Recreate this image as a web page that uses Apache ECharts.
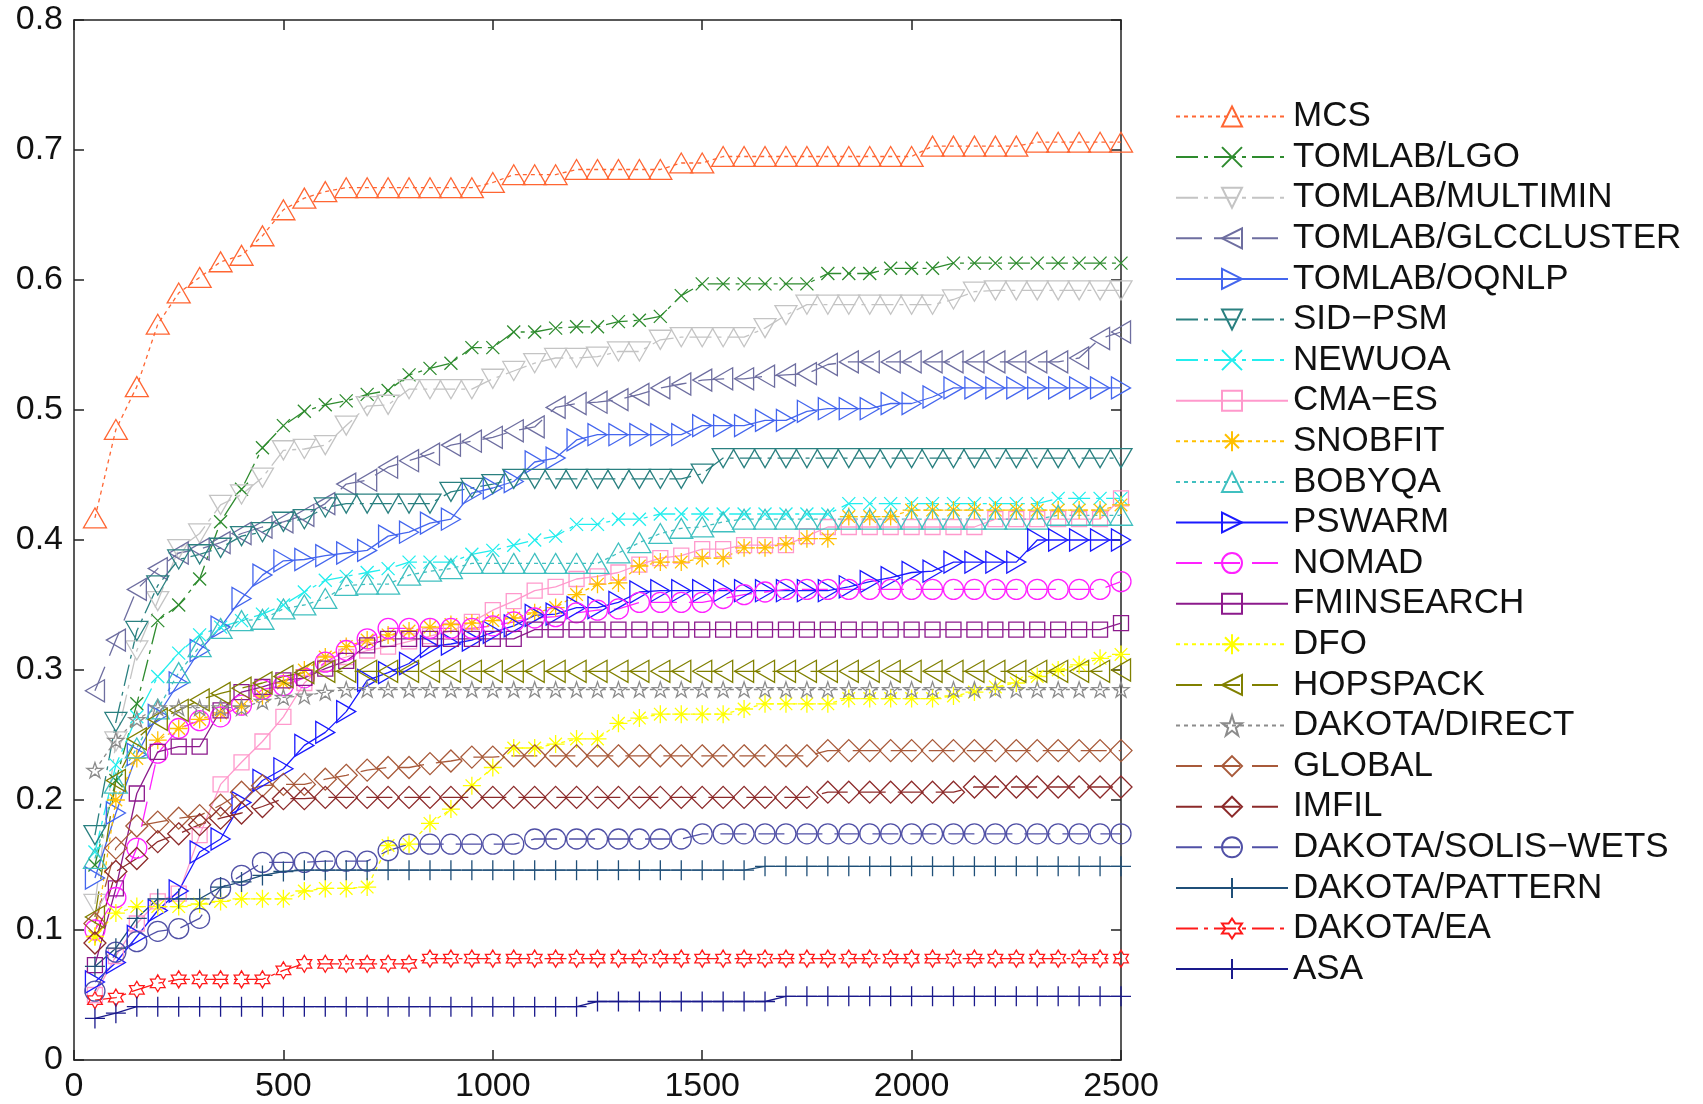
<!DOCTYPE html>
<html>
<head>
<meta charset="utf-8">
<title>Data profiles</title>
<script src="https://cdn.jsdelivr.net/npm/echarts@6/dist/echarts.min.js"></script>
<style>
  html, body { margin: 0; padding: 0; background: #fff; }
  #chart { width: 1703px; height: 1104px; }
</style>
</head>
<body>
<div id="chart"></div>
<script>
// function evaluations (x positions of the markers)
var evals = [50,100,150,200,250,300,350,400,450,500,
  550,600,650,700,750,800,850,900,950,1000,
  1050,1100,1150,1200,1250,1300,1350,1400,1450,1500,
  1550,1600,1650,1700,1750,1800,1850,1900,1950,2000,
  2050,2100,2150,2200,2250,2300,2350,2400,2450,2500];

var xTicks = [0, 500, 1000, 1500, 2000, 2500];
var yTicks = [0, 0.1, 0.2, 0.3, 0.4, 0.5, 0.6, 0.7, 0.8];

var mcs = [0.417,0.485,0.518,0.566,0.590,0.602,0.614,0.619,0.634,0.654,
  0.663,0.668,0.671,0.671,0.671,0.671,0.671,0.671,0.671,0.675,
  0.681,0.681,0.681,0.685,0.685,0.685,0.685,0.685,0.690,0.690,
  0.695,0.695,0.695,0.695,0.695,0.695,0.695,0.695,0.695,0.695,
  0.703,0.703,0.703,0.703,0.703,0.706,0.706,0.706,0.706,0.706];
var tomlabLgo = [0.150,0.215,0.274,0.338,0.350,0.370,0.414,0.439,0.471,0.488,
  0.499,0.504,0.507,0.512,0.515,0.527,0.532,0.536,0.548,0.548,
  0.560,0.560,0.563,0.564,0.564,0.568,0.569,0.572,0.588,0.597,
  0.597,0.597,0.597,0.597,0.597,0.605,0.605,0.605,0.609,0.609,
  0.609,0.613,0.613,0.613,0.613,0.613,0.613,0.613,0.613,0.613];
var tomlabMultimin = [0.120,0.245,0.315,0.353,0.393,0.405,0.427,0.435,0.448,0.469,
  0.470,0.473,0.488,0.503,0.504,0.516,0.516,0.516,0.516,0.524,
  0.530,0.536,0.540,0.540,0.541,0.545,0.545,0.554,0.556,0.556,
  0.556,0.556,0.563,0.573,0.581,0.581,0.581,0.581,0.581,0.581,
  0.581,0.585,0.591,0.592,0.592,0.592,0.592,0.592,0.592,0.592];
var tomlabGlc = [0.284,0.323,0.362,0.378,0.390,0.393,0.398,0.405,0.410,0.414,
  0.419,0.428,0.443,0.446,0.456,0.461,0.466,0.473,0.476,0.479,
  0.484,0.487,0.502,0.505,0.506,0.508,0.512,0.517,0.520,0.523,
  0.524,0.524,0.526,0.527,0.528,0.535,0.537,0.537,0.537,0.537,
  0.537,0.537,0.537,0.537,0.537,0.537,0.537,0.540,0.555,0.560];
var tomlabOqnlp = [0.140,0.190,0.235,0.265,0.290,0.315,0.333,0.355,0.373,0.384,
  0.385,0.388,0.390,0.392,0.403,0.406,0.413,0.416,0.436,0.440,
  0.445,0.460,0.463,0.477,0.481,0.481,0.481,0.481,0.481,0.488,
  0.488,0.488,0.492,0.492,0.499,0.501,0.501,0.501,0.505,0.505,
  0.510,0.517,0.517,0.517,0.517,0.517,0.517,0.517,0.517,0.517];
var sidPsm = [0.173,0.260,0.330,0.365,0.385,0.389,0.394,0.403,0.406,0.414,
  0.416,0.425,0.428,0.428,0.428,0.428,0.428,0.437,0.440,0.443,
  0.447,0.447,0.447,0.447,0.447,0.447,0.447,0.447,0.447,0.451,
  0.463,0.463,0.463,0.463,0.463,0.463,0.463,0.463,0.463,0.463,
  0.463,0.463,0.463,0.463,0.463,0.463,0.463,0.463,0.463,0.463];
var newuoa = [0.160,0.227,0.264,0.295,0.313,0.327,0.333,0.338,0.343,0.350,
  0.360,0.369,0.372,0.375,0.378,0.383,0.383,0.383,0.389,0.392,
  0.396,0.400,0.403,0.412,0.412,0.416,0.416,0.420,0.420,0.420,
  0.420,0.420,0.420,0.420,0.420,0.420,0.428,0.428,0.428,0.428,
  0.428,0.428,0.428,0.428,0.428,0.428,0.432,0.432,0.432,0.432];
var cmaEs = [0.050,0.080,0.105,0.122,0.128,0.173,0.212,0.229,0.245,0.264,
  0.290,0.305,0.310,0.315,0.318,0.322,0.326,0.330,0.337,0.346,
  0.353,0.361,0.364,0.370,0.372,0.375,0.381,0.386,0.388,0.393,
  0.393,0.396,0.396,0.396,0.403,0.410,0.410,0.410,0.410,0.410,
  0.410,0.410,0.410,0.416,0.416,0.416,0.416,0.416,0.416,0.432];
var snobfit = [0.095,0.200,0.232,0.246,0.255,0.262,0.267,0.272,0.280,0.290,
  0.300,0.310,0.318,0.323,0.327,0.330,0.333,0.335,0.336,0.338,
  0.340,0.344,0.348,0.358,0.366,0.367,0.380,0.383,0.383,0.386,
  0.386,0.394,0.394,0.397,0.401,0.401,0.418,0.418,0.418,0.423,
  0.423,0.423,0.423,0.423,0.423,0.423,0.423,0.423,0.423,0.427];
var bobyqa = [0.155,0.213,0.240,0.270,0.298,0.318,0.332,0.338,0.339,0.347,
  0.350,0.355,0.365,0.366,0.366,0.373,0.376,0.378,0.382,0.382,
  0.382,0.382,0.382,0.382,0.382,0.390,0.398,0.405,0.409,0.410,
  0.414,0.416,0.416,0.416,0.416,0.416,0.416,0.416,0.416,0.416,
  0.416,0.416,0.416,0.416,0.416,0.416,0.419,0.419,0.419,0.419];
var pswarm = [0.060,0.075,0.095,0.115,0.130,0.160,0.170,0.198,0.215,0.224,
  0.242,0.252,0.268,0.292,0.298,0.305,0.318,0.320,0.323,0.329,
  0.334,0.342,0.343,0.348,0.348,0.352,0.360,0.361,0.361,0.361,
  0.361,0.361,0.361,0.361,0.361,0.361,0.364,0.368,0.371,0.375,
  0.376,0.383,0.383,0.383,0.383,0.400,0.400,0.400,0.400,0.400];
var nomad = [0.100,0.125,0.163,0.236,0.255,0.261,0.264,0.273,0.285,0.288,
  0.294,0.306,0.315,0.324,0.332,0.332,0.332,0.332,0.332,0.334,
  0.337,0.340,0.341,0.344,0.346,0.347,0.352,0.352,0.352,0.352,
  0.355,0.358,0.360,0.362,0.362,0.362,0.362,0.362,0.362,0.362,
  0.362,0.362,0.362,0.362,0.362,0.362,0.362,0.362,0.362,0.368];
var fminsearch = [0.073,0.132,0.205,0.237,0.241,0.241,0.269,0.283,0.287,0.292,
  0.294,0.301,0.307,0.319,0.324,0.324,0.324,0.324,0.324,0.324,
  0.324,0.331,0.331,0.331,0.331,0.331,0.331,0.331,0.331,0.331,
  0.331,0.331,0.331,0.331,0.331,0.331,0.331,0.331,0.331,0.331,
  0.331,0.331,0.331,0.331,0.331,0.331,0.331,0.331,0.331,0.336];
var dfo = [0.095,0.113,0.118,0.118,0.118,0.120,0.122,0.124,0.124,0.124,
  0.130,0.132,0.132,0.133,0.165,0.166,0.182,0.193,0.211,0.225,
  0.240,0.240,0.243,0.247,0.247,0.259,0.263,0.266,0.266,0.266,
  0.266,0.270,0.274,0.274,0.274,0.274,0.278,0.278,0.278,0.278,
  0.278,0.280,0.283,0.287,0.290,0.295,0.300,0.304,0.309,0.312];
var hopspack = [0.110,0.215,0.247,0.262,0.269,0.277,0.282,0.286,0.290,0.295,
  0.298,0.299,0.299,0.299,0.299,0.299,0.299,0.299,0.299,0.299,
  0.299,0.299,0.299,0.299,0.299,0.299,0.299,0.299,0.299,0.299,
  0.299,0.299,0.299,0.299,0.299,0.299,0.299,0.299,0.299,0.299,
  0.299,0.299,0.299,0.299,0.299,0.299,0.299,0.299,0.299,0.300];
var dakotaDirect = [0.223,0.246,0.262,0.271,0.271,0.271,0.271,0.271,0.276,0.279,
  0.280,0.283,0.285,0.285,0.285,0.285,0.285,0.285,0.285,0.285,
  0.285,0.285,0.285,0.285,0.285,0.285,0.285,0.285,0.285,0.285,
  0.285,0.285,0.285,0.285,0.285,0.285,0.285,0.285,0.285,0.285,
  0.285,0.285,0.285,0.285,0.285,0.285,0.285,0.285,0.285,0.285];
var globalOpt = [0.105,0.163,0.180,0.183,0.186,0.188,0.196,0.206,0.211,0.212,
  0.212,0.216,0.219,0.223,0.225,0.225,0.228,0.230,0.233,0.233,
  0.234,0.234,0.234,0.234,0.234,0.234,0.234,0.234,0.234,0.234,
  0.234,0.234,0.234,0.234,0.234,0.238,0.238,0.238,0.238,0.238,
  0.238,0.238,0.238,0.238,0.238,0.238,0.238,0.238,0.238,0.238];
var imfil = [0.090,0.145,0.155,0.168,0.174,0.181,0.186,0.190,0.195,0.201,
  0.201,0.202,0.202,0.202,0.202,0.202,0.202,0.202,0.202,0.202,
  0.202,0.202,0.202,0.202,0.202,0.202,0.202,0.202,0.202,0.202,
  0.202,0.202,0.202,0.202,0.202,0.206,0.206,0.206,0.206,0.206,
  0.206,0.206,0.210,0.210,0.210,0.210,0.210,0.210,0.210,0.210];
var dakotaSolis = [0.053,0.083,0.091,0.099,0.101,0.109,0.132,0.142,0.152,0.152,
  0.152,0.153,0.153,0.153,0.161,0.166,0.166,0.166,0.166,0.166,
  0.166,0.170,0.170,0.170,0.170,0.170,0.170,0.170,0.170,0.174,
  0.174,0.174,0.174,0.174,0.174,0.174,0.174,0.174,0.174,0.174,
  0.174,0.174,0.174,0.174,0.174,0.174,0.174,0.174,0.174,0.174];
var dakotaPattern = [0.072,0.086,0.109,0.124,0.124,0.124,0.133,0.137,0.142,0.145,
  0.146,0.146,0.146,0.146,0.146,0.146,0.146,0.146,0.146,0.146,
  0.146,0.146,0.146,0.146,0.146,0.146,0.146,0.146,0.146,0.146,
  0.146,0.146,0.149,0.149,0.149,0.149,0.149,0.149,0.149,0.149,
  0.149,0.149,0.149,0.149,0.149,0.149,0.149,0.149,0.149,0.149];
var dakotaEa = [0.046,0.048,0.054,0.059,0.062,0.062,0.062,0.062,0.062,0.069,
  0.074,0.074,0.074,0.074,0.074,0.074,0.078,0.078,0.078,0.078,
  0.078,0.078,0.078,0.078,0.078,0.078,0.078,0.078,0.078,0.078,
  0.078,0.078,0.078,0.078,0.078,0.078,0.078,0.078,0.078,0.078,
  0.078,0.078,0.078,0.078,0.078,0.078,0.078,0.078,0.078,0.078];
var asa = [0.032,0.036,0.041,0.041,0.041,0.041,0.041,0.041,0.041,0.041,
  0.041,0.041,0.041,0.041,0.041,0.041,0.041,0.041,0.041,0.041,
  0.041,0.041,0.041,0.041,0.045,0.045,0.045,0.045,0.045,0.045,
  0.045,0.045,0.045,0.049,0.049,0.049,0.049,0.049,0.049,0.049,
  0.049,0.049,0.049,0.049,0.049,0.049,0.049,0.049,0.049,0.049];

// marker shapes (hollow, MATLAB-like)
var TRI_UP = 'path://M5,0L10,8.66L0,8.66Z';
var TRI_DOWN = 'path://M0,0L10,0L5,8.66Z';
var TRI_LEFT = 'path://M8.66,0L8.66,10L0,5Z';
var TRI_RIGHT = 'path://M0,0L0,10L8.66,5Z';
var CROSS = 'path://M0,0L10,10M10,0L0,10';
var PLUS = 'path://M5,0L5,10M0,5L10,5';
var ASTER = 'path://M5,0L5,10M0,5L10,5M1.5,1.5L8.5,8.5M8.5,1.5L1.5,8.5';
var PENTA = 'path://M5,0L6.123,3.455L9.755,3.455L6.816,5.59L7.939,9.045L5,6.91L2.061,9.045L3.184,5.59L0.245,3.455L3.877,3.455Z';
var HEXA = 'path://M5,0L6.443,2.5L9.33,2.5L7.887,5L9.33,7.5L6.443,7.5L5,10L3.557,7.5L0.67,7.5L2.113,5L0.67,2.5L3.557,2.5Z';

// line types
var SOLID = 'solid';
var DASH = [26, 12];
var DOT = [4, 4];
var DASHDOT = [22, 6, 4, 6];

var series = [
  { name: 'MCS', data: mcs, color: '#FF6633', type: DOT, symbol: TRI_UP, size: 23 },
  { name: 'TOMLAB/LGO', data: tomlabLgo, color: '#2E8B2E', type: DASHDOT, symbol: CROSS, size: 13 },
  { name: 'TOMLAB/MULTIMIN', data: tomlabMultimin, color: '#C4C4C4', type: DASHDOT, symbol: TRI_DOWN, size: 22 },
  { name: 'TOMLAB/GLCCLUSTER', data: tomlabGlc, color: '#6E6EA0', type: DASH, symbol: TRI_LEFT, size: 22 },
  { name: 'TOMLAB/OQNLP', data: tomlabOqnlp, color: '#4466EE', type: SOLID, symbol: TRI_RIGHT, size: 22 },
  { name: 'SID\u2212PSM', data: sidPsm, color: '#2A8080', type: DASHDOT, symbol: TRI_DOWN, size: 22 },
  { name: 'NEWUOA', data: newuoa, color: '#22EEEE', type: DASHDOT, symbol: CROSS, size: 13 },
  { name: 'CMA\u2212ES', data: cmaEs, color: '#FF99CC', type: SOLID, symbol: 'rect', size: 15 },
  { name: 'SNOBFIT', data: snobfit, color: '#FFC000', type: DOT, symbol: ASTER, size: 18 },
  { name: 'BOBYQA', data: bobyqa, color: '#40C0C0', type: DOT, symbol: TRI_UP, size: 23 },
  { name: 'PSWARM', data: pswarm, color: '#1A1AFF', type: SOLID, symbol: TRI_RIGHT, size: 22 },
  { name: 'NOMAD', data: nomad, color: '#FF22FF', type: DASH, symbol: 'circle', size: 20 },
  { name: 'FMINSEARCH', data: fminsearch, color: '#8C1A8C', type: SOLID, symbol: 'rect', size: 15 },
  { name: 'DFO', data: dfo, color: '#FFFF00', type: DOT, symbol: ASTER, size: 18 },
  { name: 'HOPSPACK', data: hopspack, color: '#808000', type: DASH, symbol: TRI_LEFT, size: 22 },
  { name: 'DAKOTA/DIRECT', data: dakotaDirect, color: '#8C8C8C', type: DOT, symbol: PENTA, size: 16 },
  { name: 'GLOBAL', data: globalOpt, color: '#A85A3A', type: DASH, symbol: 'diamond', size: 22 },
  { name: 'IMFIL', data: imfil, color: '#8C2A2A', type: DASH, symbol: 'diamond', size: 22 },
  { name: 'DAKOTA/SOLIS\u2212WETS', data: dakotaSolis, color: '#5050A6', type: DASH, symbol: 'circle', size: 20 },
  { name: 'DAKOTA/PATTERN', data: dakotaPattern, color: '#1F4F78', type: SOLID, symbol: PLUS, size: 20 },
  { name: 'DAKOTA/EA', data: dakotaEa, color: '#FF1A1A', type: DASHDOT, symbol: HEXA, size: 17 },
  { name: 'ASA', data: asa, color: '#1A1A8C', type: SOLID, symbol: PLUS, size: 20 }
];

var chart = echarts.init(document.getElementById('chart'), null, { renderer: 'canvas' });

var axisFont = { fontFamily: 'Liberation Sans', fontSize: 34, color: '#111' };
var boxLine = { show: true, onZero: false, lineStyle: { color: '#222', width: 1.5 } };
var tickIn = { show: true, inside: true, length: 10, lineStyle: { color: '#222', width: 1.5 } };

var option = {
  animation: false,
  backgroundColor: '#fff',
  grid: { left: 74, top: 20, width: 1047, height: 1042, containLabel: false },
  legend: {
    orient: 'vertical',
    left: 1170,
    top: 94,
    itemWidth: 112,
    itemHeight: 25,
    itemGap: 5.6,
    selectedMode: false,
    textStyle: { fontFamily: 'Liberation Sans', fontSize: 35, lineHeight: 34, color: '#111' },
    data: series.map(function (s) { return s.name; })
  },
  xAxis: [{
    type: 'value', min: xTicks[0], max: xTicks[xTicks.length - 1], interval: 500,
    axisLine: boxLine, axisTick: tickIn, splitLine: { show: false },
    axisLabel: Object.assign({
      margin: 10,
      formatter: function (v) { return String(v); }
    }, axisFont)
  }, {
    type: 'value', position: 'top', min: xTicks[0], max: xTicks[xTicks.length - 1], interval: 500,
    axisLine: boxLine, axisTick: tickIn, splitLine: { show: false }, axisLabel: { show: false }
  }],
  yAxis: [{
    type: 'value', min: yTicks[0], max: yTicks[yTicks.length - 1], interval: 0.1,
    axisLine: boxLine, axisTick: tickIn, splitLine: { show: false },
    axisLabel: Object.assign({
      margin: 11,
      formatter: function (v) { return v === 0 ? '0' : v.toFixed(1); }
    }, axisFont)
  }, {
    type: 'value', position: 'right', min: yTicks[0], max: yTicks[yTicks.length - 1], interval: 0.1,
    axisLine: boxLine, axisTick: tickIn, splitLine: { show: false }, axisLabel: { show: false }
  }],
  series: series.map(function (s) {
    return {
      name: s.name,
      type: 'line',
      xAxisIndex: 0,
      yAxisIndex: 0,
      data: evals.map(function (x, i) { return [x, s.data[i]]; }),
      symbol: s.symbol,
      symbolSize: s.size,
      symbolKeepAspect: true,
      showSymbol: true,
      showAllSymbol: true,
      clip: false,
      lineStyle: { color: s.color, width: 1.3, type: s.type },
      itemStyle: { color: 'rgba(0,0,0,0)', borderColor: s.color, borderWidth: 1.3 },
      emphasis: { disabled: true }
    };
  })
};

chart.setOption(option);
</script>
</body>
</html>
